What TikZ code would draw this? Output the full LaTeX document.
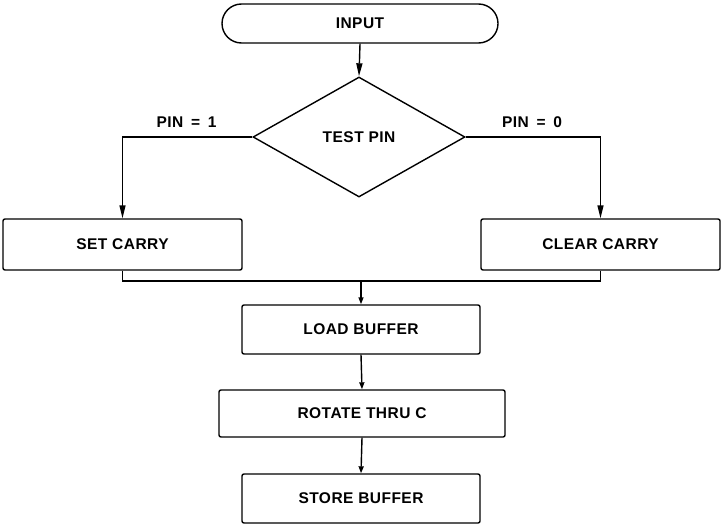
\documentclass[tikz,border=0pt]{standalone}
\usepackage{fontspec}
\setmainfont{Liberation Sans}[LetterSpace=3]
\usetikzlibrary{shapes.geometric,shapes.misc,arrows.meta}
\begin{document}
\begin{tikzpicture}[x=1pt,y=-1pt,
  every node/.style={font=\fontsize{15.5}{18}\selectfont\bfseries, inner sep=0pt},
  procbox/.style={draw, line width=1.4pt, rounded corners=2pt, rectangle},
  link/.style={line width=1.4pt},
  bigtip/.style={link, -{Triangle[length=13pt,width=6pt]}},
  smalltip/.style={link, -{Triangle[length=7pt,width=5pt]}}]
\useasboundingbox (0,0) rectangle (722,524);
\node[draw, line width=1.4pt, rounded rectangle, minimum width=276pt, minimum height=39pt] (input) at (360,23.5) {INPUT};
\node[draw, line width=1.4pt, diamond, minimum width=212pt, minimum height=120pt, aspect=1.77] (test) at (359,137) {TEST PIN};
\node[procbox, minimum width=239pt, minimum height=51pt] (set) at (122.5,244.5) {SET CARRY};
\node[procbox, minimum width=239pt, minimum height=51pt] (clear) at (600.5,244.5) {CLEAR CARRY};
\node[procbox, minimum width=238pt, minimum height=49pt] (load) at (361,329.5) {LOAD BUFFER};
\node[procbox, minimum width=286pt, minimum height=47pt] (rot) at (362,413.5) {ROTATE THRU C};
\node[procbox, minimum width=238pt, minimum height=49pt] (store) at (361,498.5) {STORE BUFFER};
\node (l1) at (186.5,122) {PIN\enspace=\enspace1};
\node (l0) at (532,122) {PIN\enspace=\enspace0};
\coordinate (m) at (361,281);
\draw[bigtip] (input.south) -- (test.north);
\draw[bigtip] (test.west) -| (set.north);
\draw[bigtip] (test.east) -| (clear.north);
\draw[link] (set.south) |- (m) -| (clear.south);
\draw[smalltip] (m) -- (load.north);
\draw[smalltip] (load.south) -- (rot.north);
\draw[smalltip] (rot.south) -- (store.north);
\end{tikzpicture}
\end{document}
